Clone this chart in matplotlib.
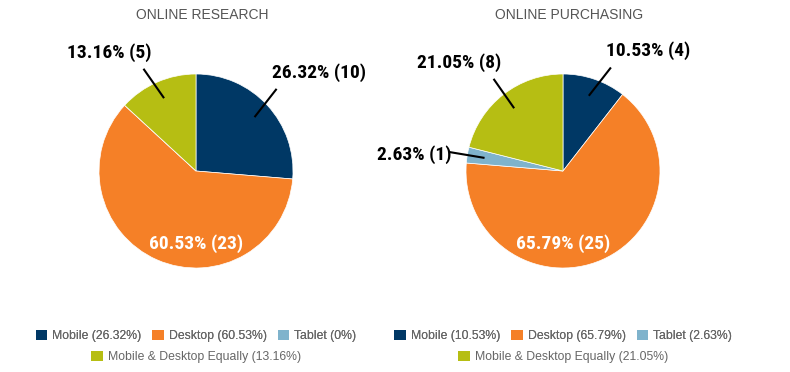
import numpy as np
import matplotlib.pyplot as plt
from matplotlib.patches import Patch

categories = ['Mobile', 'Desktop', 'Tablet', 'Mobile & Desktop Equally']
colors = ['#003865', '#F58027', '#7FB3CC', '#B6BE13']

research_counts = [10, 23, 0, 5]
research_pct = [26.32, 60.53, 0, 13.16]
purchasing_counts = [4, 25, 1, 8]
purchasing_pct = [10.53, 65.79, 2.63, 21.05]

titles = ['ONLINE RESEARCH', 'ONLINE PURCHASING']

W, H = 790, 372
label_font = ['Roboto Condensed', 'DejaVu Sans']


def fmt_pct(p):
    s = f'{p:.2f}'.rstrip('0').rstrip('.')
    return s + '%'


def draw_pie(cx, counts, pct, title):
    r = 97
    half = 1.5 * r
    ax = fig.add_axes([(cx - half) / W, (H - 171 - half) / H, 2 * half / W, 2 * half / H])
    ax.pie(counts, colors=colors, startangle=90, counterclock=False,
           radius=1.0, wedgeprops=dict(linewidth=0.5, edgecolor='white'))
    ax.set_xlim(-1.5, 1.5)
    ax.set_ylim(-1.5, 1.5)
    ax.set_aspect('equal')
    ax.axis('off')

    total = sum(counts)
    start = 90.0
    lab_kw = dict(fontsize=14, fontweight='bold', family=label_font, fontstretch='condensed')
    for c, p in zip(counts, pct):
        span = 360.0 * c / total
        mid = np.radians(start - span / 2)
        start -= span
        if c == 0:
            continue
        txt = f'{p:.2f}% ({c})'
        if p > 50:
            ax.text(0, -0.75, txt, ha='center', va='center', color='white', **lab_kw)
            continue
        x0, y0 = 0.82 * np.cos(mid), 0.82 * np.sin(mid)
        side = 1 if np.cos(mid) > 0 else -1
        top = np.sin(mid) > 0.5
        if top:
            d = np.radians(52 if side > 0 else 125)
        else:
            d = mid
        x1, y1 = x0 + 0.37 * np.cos(d), y0 + 0.37 * np.sin(d)
        ax.plot([x0, x1], [y0, y1], color='black', lw=1.5, solid_capstyle='butt')
        if top:
            tx = x1 - 0.05 if side > 0 else x1 + 0.08
            ax.text(tx, y1 + 0.17, txt, ha='left' if side > 0 else 'right', va='center',
                    color='black', **lab_kw)
        else:
            ax.text(x1 - 0.02 * side, y1 - 0.03, txt, ha='right' if side < 0 else 'left', va='center',
                    color='black', **lab_kw)

    fig.text((cx + 6) / W, 1 - 15 / H, title, ha='center', va='center',
             fontsize=10, color='#555555', family='Liberation Sans')

    handles = [Patch(facecolor=col, label=f'{cat} ({fmt_pct(p)})') for cat, col, p in zip(categories, colors, pct)]
    leg_kw = dict(frameon=False, handlelength=0.95, handleheight=0.95, handletextpad=0.4,
                  columnspacing=0.9, prop={'family': 'Liberation Sans', 'size': 8.8},
                  labelcolor='#666666')
    l1 = fig.legend(handles=handles[:3], ncol=3, loc='center', bbox_to_anchor=(cx / W, 1 - 336 / H), **leg_kw)
    fig.legend(handles=handles[3:], ncol=1, loc='center', bbox_to_anchor=(cx / W, 1 - 357 / H), **leg_kw)
    fig.add_artist(l1)


fig = plt.figure(figsize=(7.9, 3.72), dpi=100)
draw_pie(196, research_counts, research_pct, titles[0])
draw_pie(563, purchasing_counts, purchasing_pct, titles[1])
fig.savefig('out.png', dpi=100, facecolor='white')
